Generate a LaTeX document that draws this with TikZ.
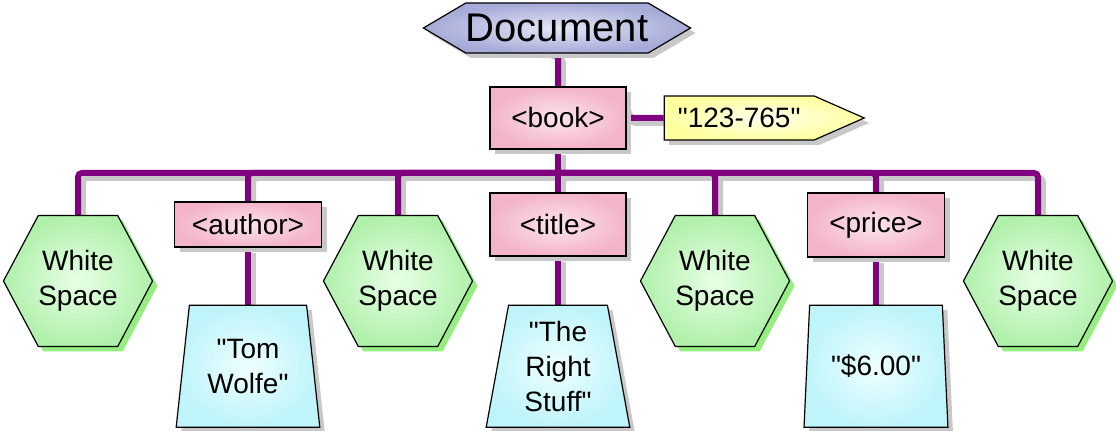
\documentclass[tikz,border=0pt]{standalone}
\usepackage{fontspec}
\setmainfont{Liberation Sans}[Ligatures=TeXOff]
\usetikzlibrary{positioning, shapes.symbols, shapes.geometric, shadows, backgrounds}

\definecolor{linkpurple}{RGB}{128,0,128}
\definecolor{shadowgray}{RGB}{200,200,200}
\definecolor{docout}{RGB}{165,170,215}
\definecolor{docin}{RGB}{228,230,246}
\definecolor{tagout}{RGB}{243,180,202}
\definecolor{tagin}{RGB}{252,228,236}
\definecolor{wsout}{RGB}{176,240,170}
\definecolor{wsin}{RGB}{232,255,230}
\definecolor{wsshadow}{RGB}{150,238,130}
\definecolor{valout}{RGB}{190,244,250}
\definecolor{valin}{RGB}{238,255,255}
\definecolor{attrout}{RGB}{255,255,160}
\definecolor{attrin}{RGB}{255,255,236}

\begin{document}
\begin{tikzpicture}[x=0.5pt, y=-0.5pt]
				\tikzset {node distance=17pt, font=\fontsize{14}{17.5}\selectfont,
					link/.style={draw=#1, line width=3pt, rounded corners=2pt}, link/.default=linkpurple,
					castshadow/.style={drop shadow={shadow xshift=2.5pt, shadow yshift=-2.5pt, fill=#1, opacity=1}},
					doc/.style={signal, signal to=west and east, signal pointer angle=61, minimum width=132.5pt, minimum height=25pt, inner sep=0pt, draw, line width=0.6pt, inner color=docin, outer color=docout, castshadow=shadowgray, font=\fontsize{20}{24}\selectfont},
					tag/.style={rectangle, inner sep=0pt, draw, line width=0.6pt, inner color=tagin, outer color=tagout, castshadow=shadowgray},
					wspace/.style={signal, signal to=west and east, signal pointer angle=124, minimum width=72.5pt, minimum height=65.5pt, inner sep=0pt, draw, line width=0.6pt, inner color=wsin, outer color=wsout, castshadow=wsshadow, align=center},
					value/.style={trapezium, trapezium angle=80.5, trapezium stretches=true, minimum width=72pt, minimum height=61pt, inner sep=0pt, draw, line width=0.6pt, inner color=valin, outer color=valout, castshadow=shadowgray, align=center},
					attr/.style={signal, signal to=east, signal pointer angle=47.5, minimum width=100pt, minimum height=22pt, inner sep=0pt, draw, line width=0.6pt, inner color=attrin, outer color=attrout, castshadow=shadowgray}}
					\useasboundingbox (0,0) rectangle (1116,431);
					\node[doc] (document) at (557,28) {Document};
					\node[tag, minimum width=68pt, minimum height=31pt] (book) at (558,118) {<book>};
					\node[attr, right=18.5pt of book] (isbn) {"123-765"};

					\node[wspace] (ws1) at (78,281) {White\\Space};
					\node[tag, minimum width=73.5pt, minimum height=22.5pt] (author) at (248,224.5) {<author>};
					\node[wspace] (ws2) at (398,281) {White\\Space};
					\node[tag, minimum width=68pt, minimum height=31.5pt] (title) at (558,224.5) {<title>};
					\node[wspace] (ws3) at (715,281) {White\\Space};
					\node[tag, minimum width=68.5pt, minimum height=32pt] (price) at (876,225) {<price>};
					\node[wspace] (ws4) at (1038,281) {White\\Space};

					\node[value, below=28.5pt of author] (tom) {"Tom\\Wolfe"};
					\node[value, below=24pt of title] (stuff) {"The\\Right\\Stuff"};
					\node[value, below=23.5pt of price] (cost) {"\$6.00"};

					\coordinate (bar) at (558,173);
					% grey shadow pass first, then the purple wires
					\begin{scope}[on background layer]
					\foreach \wirecol/\off in {shadowgray/2.5, linkpurple/0}
					\foreach \a/\b in {book.north/document.south, book.east/isbn.west, book.south/bar,
						ws1.north/bar, ws4.north/bar, author.north/bar, ws2.north/bar, title.north/bar,
						ws3.north/bar, price.north/bar, author.south/tom.north,
						title.south/stuff.north, price.south/cost.north}
						\draw[link=\wirecol] ([xshift=\off pt, yshift=-\off pt]\a) |- ([xshift=\off pt, yshift=-\off pt]\b);
					\end{scope}
			\end{tikzpicture}
\end{document}
